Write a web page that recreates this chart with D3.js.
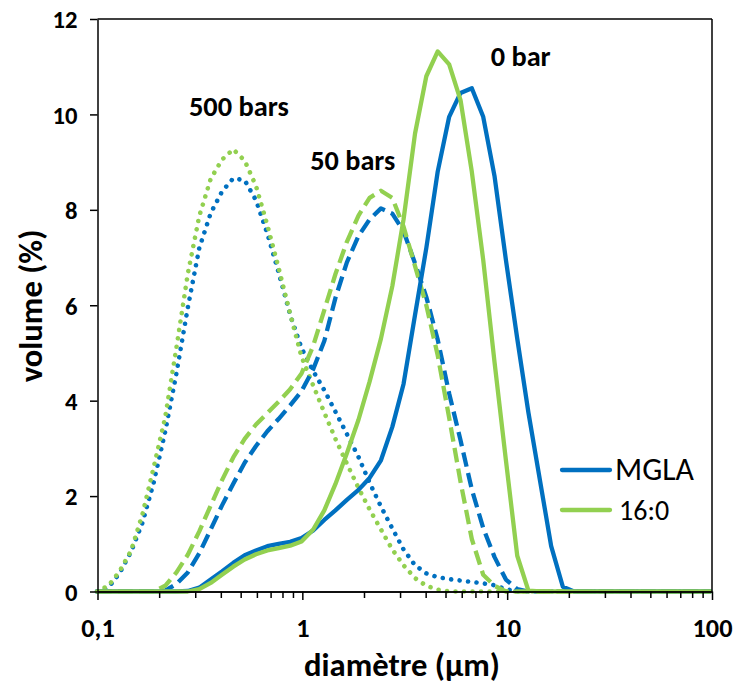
<!DOCTYPE html>
<html><head><meta charset="utf-8">
<script src="https://cdn.jsdelivr.net/npm/d3@7"></script>
<style>body{margin:0;background:#fff}svg{display:block}</style>
</head><body>
<svg id="chart" width="737" height="686"></svg>
<script>
// ---- data ----
const sizes = [0.0995,0.113,0.128,0.146,0.166,0.188,0.214,0.243,0.276,0.314,0.357,0.405,0.460,0.523,0.594,0.675,0.767,0.872,0.991,1.13,1.28,1.45,1.65,1.88,2.13,2.42,2.75,3.12,3.55,4.03,4.58,5.21,5.92,6.72,7.64,8.68,9.86,11.2,12.7,14.5,16.4,18.7,21.2,24.1,27.4,31.1,35.3,40.1,45.6,51.8,58.9,66.9,76.0,86.4,98.1];
const mgla0  = [0,0,0,0,0,0,0,0,0.01,0.08,0.25,0.42,0.6,0.76,0.86,0.95,1.0,1.04,1.12,1.28,1.5,1.7,1.92,2.13,2.38,2.75,3.45,4.35,5.8,7.2,8.8,9.95,10.45,10.55,9.95,8.7,6.95,5.3,3.75,2.3,0.95,0.1,0,0,0,0,0,0,0,0,0,0,0,0,0];
const kp0    = [0,0,0,0,0,0,0,0,0,0.05,0.18,0.35,0.52,0.67,0.78,0.86,0.91,0.96,1.05,1.3,1.7,2.25,2.9,3.6,4.4,5.3,6.4,7.8,9.6,10.8,11.32,11.05,10.3,8.8,6.95,4.8,2.75,0.75,0.02,0,0,0,0,0,0,0,0,0,0,0,0,0,0,0,0];
const mgla50 = [0,0,0,0,0,0,0.02,0.16,0.4,0.8,1.3,1.8,2.26,2.7,3.05,3.36,3.62,3.9,4.2,4.66,5.25,6.15,6.9,7.45,7.8,8.03,7.92,7.55,6.88,6.17,5.28,4.15,3.17,2.14,1.33,0.72,0.25,0.05,0,0,0,0,0,0,0,0,0,0,0,0,0,0,0,0,0];
const kp50   = [0,0,0,0,0,0,0.12,0.4,0.77,1.26,1.8,2.33,2.81,3.2,3.5,3.74,3.98,4.24,4.57,5.15,5.9,6.65,7.33,7.88,8.25,8.4,8.25,7.65,6.82,6.0,4.95,3.64,2.3,1.1,0.35,0.12,0,0,0,0,0,0,0,0,0,0,0,0,0,0,0,0,0,0,0];
const mgla500= [0,0.08,0.38,0.84,1.45,2.28,3.35,4.58,5.95,7.2,7.93,8.38,8.66,8.62,8.2,7.5,6.68,5.8,5.1,4.62,4.22,3.77,3.3,2.82,2.28,1.78,1.32,0.88,0.55,0.38,0.3,0.26,0.23,0.2,0.17,0.13,0.05,0,0,0,0,0,0,0,0,0,0,0,0,0,0,0,0,0,0];
const kp500  = [0,0.12,0.42,0.86,1.63,2.6,3.65,5.12,6.66,7.87,8.65,9.05,9.27,9.03,8.5,7.68,6.77,5.82,4.92,4.32,3.75,3.2,2.68,2.17,1.72,1.3,0.88,0.55,0.28,0.12,0.04,0,0,0,0,0,0,0,0,0,0,0,0,0,0,0,0,0,0,0,0,0,0,0,0];
const yTickValues = [0,2,4,6,8,10,12];
const xMajorTicks = [0.1,1,10,100];
const xMajorLabels = ["0,1","1","10","100"];
const seriesNames = ["MGLA","16:0"];
const pressureLabels = ["0 bar","50 bars","500 bars"];
const xTitle = "diamètre (µm)";
const yTitle = "volume (%)";

// ---- layout ----
const FONT = "Carlito, Calibri, Lato, 'Open Sans', sans-serif";
const BLUE = "#0070C0", GREEN = "#92D050";
const svg = d3.select("#chart");
const x = d3.scaleLog().domain([0.1,100]).range([97.5,712]);
const y = d3.scaleLinear().domain([0,12]).range([591.5,19]);

function fit(sel, target){
  const w = sel.node().getComputedTextLength();
  const fs = parseFloat(sel.attr("font-size"));
  sel.attr("font-size", (fs*target/w).toFixed(2));
  return fs*target/w;
}

// series
const line = d3.line().x((d,i)=>x(sizes[i])).y(d=>y(d));
const series = [
  {v:mgla500,c:BLUE,dash:"0.01,8.5",cap:"round",w:4.6},
  {v:kp500,c:GREEN,dash:"0.01,8.5",cap:"round",w:4.6},
  {v:mgla50,c:BLUE,dash:"14.5,6.5",cap:"butt",w:4.3},
  {v:kp50,c:GREEN,dash:"14.5,6.5",cap:"butt",w:4.3},
  {v:mgla0,c:BLUE,dash:null,cap:"round",w:4.3},
  {v:kp0,c:GREEN,dash:null,cap:"round",w:4.3}
];
const plot = svg.append("g");
series.forEach(s=>{
  plot.append("path").attr("d",line(s.v)).attr("fill","none")
    .attr("stroke",s.c).attr("stroke-width",s.w)
    .attr("stroke-linecap",s.cap).attr("stroke-linejoin","round")
    .attr("stroke-dasharray",s.dash);
});

// frame (top/right)
svg.append("line").attr("x1",x(0.1)).attr("x2",x(100)).attr("y1",y(12)).attr("y2",y(12)).attr("stroke","#000").attr("stroke-width",1.5);
svg.append("line").attr("x1",x(100)).attr("x2",x(100)).attr("y1",y(12)).attr("y2",y(0)).attr("stroke","#000").attr("stroke-width",1.5);

// axes
const minor = [];
[0.1,1,10].forEach(b=>{for(let k=2;k<=9;k++) minor.push(b*k);});
const gxMinor = svg.append("g").attr("transform",`translate(0,${y(0)})`)
  .call(d3.axisBottom(x).tickValues(minor).tickSize(6.5).tickSizeOuter(0).tickFormat(""));
const gx = svg.append("g").attr("transform",`translate(0,${y(0)})`)
  .call(d3.axisBottom(x).tickValues(xMajorTicks).tickSize(8.5).tickSizeOuter(0).tickFormat((d,i)=>xMajorLabels[i]));
const gy = svg.append("g").attr("transform",`translate(${x(0.1)},0)`)
  .call(d3.axisLeft(y).tickValues(yTickValues).tickSize(7.5).tickSizeOuter(0).tickFormat(d3.format("d")));
[gxMinor,gx,gy].forEach(g=>{
  g.select(".domain").attr("stroke","#000").attr("stroke-width",1.5);
  g.selectAll(".tick line").attr("stroke","#000").attr("stroke-width",1.5);
});
gx.selectAll(".tick text").attr("font-family",FONT).attr("font-weight","bold")
  .attr("font-size",26).attr("fill","#000").attr("y",45.5).attr("dy",0);
gy.selectAll(".tick text").attr("font-family",FONT).attr("font-weight","bold")
  .attr("font-size",25).attr("fill","#000").attr("x",-20).attr("dy","0.36em");
const xs = fit(gx.selectAll(".tick text").filter((d)=>d===100), 40);
gx.selectAll(".tick text").attr("font-size",xs.toFixed(2));
const ys = fit(gy.selectAll(".tick text").filter((d)=>d===12), 25);
gy.selectAll(".tick text").attr("font-size",ys.toFixed(2));

// titles
const xt = svg.append("text").attr("x",402).attr("y",676).attr("text-anchor","middle")
  .attr("font-family",FONT).attr("font-weight","bold").attr("font-size",30).attr("fill","#000").text(xTitle);
const ts = fit(xt,196);
svg.append("text").attr("transform","translate(42,306) rotate(-90)").attr("text-anchor","middle")
  .attr("font-family",FONT).attr("font-weight","bold").attr("font-size",ts.toFixed(2)).attr("fill","#000").text(yTitle);

// pressure annotations (placed in data coordinates)
const annPos = [[8.31,11.02],[1.094,8.84],[0.2795,9.97]];
const annWidth = [60,85,100];
pressureLabels.forEach((t,i)=>{
  const a = svg.append("text").attr("x",x(annPos[i][0])).attr("y",y(annPos[i][1]))
    .attr("font-family",FONT).attr("font-weight","bold").attr("font-size",26).attr("fill","#000").text(t);
  fit(a, annWidth[i]);
});

// legend
const legY = [470,510];
const legText = [[615,479.5],[619,520]];
seriesNames.forEach((n,i)=>{
  svg.append("line").attr("x1",562).attr("x2",610).attr("y1",legY[i]).attr("y2",legY[i])
    .attr("stroke",i===0?BLUE:GREEN).attr("stroke-width",4.3).attr("stroke-linecap","round");
  const t = svg.append("text").attr("x",legText[i][0]).attr("y",legText[i][1])
    .attr("font-family",FONT).attr("font-size",28).attr("fill","#000").text(n);
  if(i===0) fit(t,79);
});
</script>
</body></html>
